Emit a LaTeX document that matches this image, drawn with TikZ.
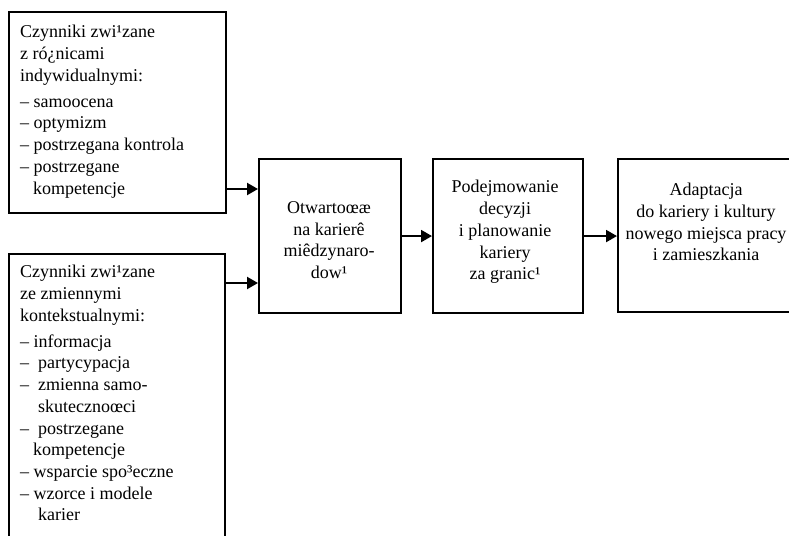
\documentclass[tikz,border=0pt]{standalone}
\usepackage{fontspec}
\setmainfont{Liberation Serif}
\usetikzlibrary{arrows.meta}
\begin{document}
\begin{tikzpicture}[x=1pt,y=-1pt,
  box/.style={draw, line width=2.1pt, inner sep=0pt, anchor=north west},
  arr/.style={line width=2.1pt, -{Triangle[length=11pt,width=12pt]}},
  txt/.style={inner sep=0pt, font=\fontsize{18pt}{21.7pt}\selectfont},
]
\useasboundingbox (0,0) rectangle (789,535);
\clip (0,0) rectangle (789,535);
% boxes
\node[box, minimum width=217pt, minimum height=201pt] (b1) at (8,11) {};
\node[box, minimum width=216pt, minimum height=330pt] (b5) at (8,253) {};
\node[box, minimum width=142pt, minimum height=154pt] (b2) at (258,158) {};
\node[box, minimum width=150pt, minimum height=154pt] (b3) at (432,158) {};
\node[box, minimum width=180pt, minimum height=153pt] (b4) at (617,158) {};
% texts
\node[txt, anchor=north west, align=left] (t1) at (20,25) {Czynniki zwi¹zane\\ z ró¿nicami\\ indywidualnymi:\\[4.5pt]
– samoocena\\
– optymizm\\
– postrzegana kontrola\\
– postrzegane\\
\hspace*{13pt}kompetencje};
\node[txt, anchor=north west, align=left] (t5) at (20,265) {Czynniki zwi¹zane\\ ze zmiennymi\\ kontekstualnymi:\\[4.5pt]
– informacja\\
–\hspace{9pt}partycypacja\\
–\hspace{9pt}zmienna samo-\\
\hspace*{18pt}skutecznoœci\\
–\hspace{9pt}postrzegane\\
\hspace*{13pt}kompetencje\\
– wsparcie spo³eczne\\
– wzorce i modele\\
\hspace*{18pt}karier};
\node[txt, align=center] (t2) at (329,240) {Otwartoœæ\\ na karierê\\ miêdzynaro-\\ dow¹};
\node[txt, align=center] (t3) at (505,232) {Podejmowanie\\ decyzji\\ i planowanie\\ kariery\\ za granic¹};
\node[txt, align=center] (t4) at (706,222) {Adaptacja\\ do kariery i kultury\\ nowego miejsca pracy\\ i zamieszkania};
% connectors
\coordinate (y1) at (0,189);
\coordinate (y2) at (0,283);
\draw[arr] (b1.east |- y1) -- (b2.west |- y1);
\draw[arr] (b5.east |- y2) -- (b2.west |- y2);
\draw[arr] (b2.east) -- (b3.west);
\draw[arr] (b3.east) -- (b4.west |- b3.east);
\end{tikzpicture}
\end{document}
